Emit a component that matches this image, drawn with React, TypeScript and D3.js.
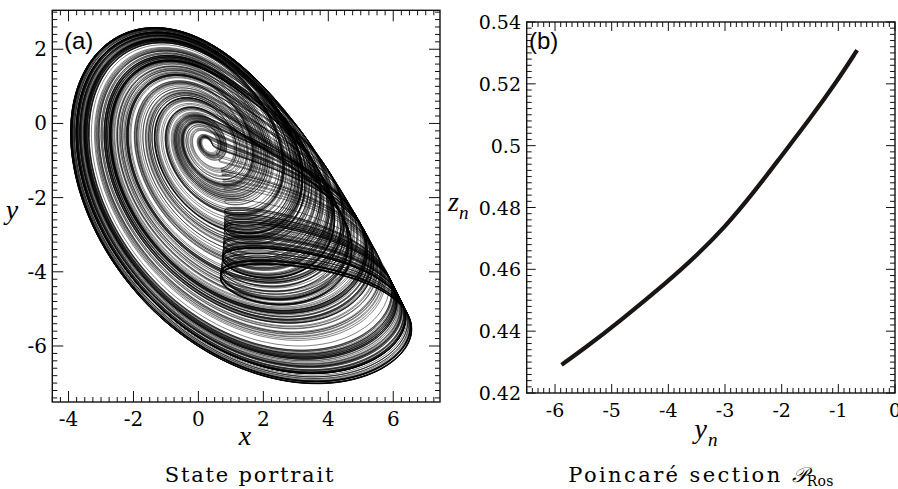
import { useMemo } from "react";
import * as d3 from "d3";

// Rössler system x' = -y - z, y' = x + a y, z' = b + z (x - c)
const rosslerParams = [0.52, 2, 4]; // a, b, c
const initialState = [-1, 0, 0.2];
const timeStep = 0.01;
const transientSteps = 20000;
const plotSteps = 200000;
const sampleEvery = 3;

// panel (a) axes
const xTicksA = [-4, -2, 0, 2, 4, 6];
const yTicksA = [-6, -4, -2, 0, 2];

// panel (b) Poincaré section
const ynValues = [-5.885, -5.44, -4.9, -4, -3.5, -3, -2.5, -2, -1.5, -1, -0.668];
const znValues = [0.4291, 0.435, 0.4426, 0.4562, 0.4645, 0.4737, 0.4847, 0.4968, 0.5087, 0.5215, 0.5309];
const xTicksB = [-6, -5, -4, -3, -2, -1, 0];
const yTicksB = [0.42, 0.44, 0.46, 0.48, 0.5, 0.52, 0.54];

const SERIF = "DejaVu Serif";
const SERIF_IT = "Liberation Serif";
const SANS = "Liberation Sans";

// RK4 on the Rössler flow, returns (x, y) samples after the transient
function integrate() {
  const [a, b, c] = rosslerParams;
  let [x, y, z] = initialState;
  const h = timeStep;
  const pts: [number, number][] = [];
  const total = transientSteps + plotSteps;
  for (let i = 0; i < total; i++) {
    const k1x = -y - z, k1y = x + a * y, k1z = b + z * (x - c);
    let x2 = x + 0.5 * h * k1x, y2 = y + 0.5 * h * k1y, z2 = z + 0.5 * h * k1z;
    const k2x = -y2 - z2, k2y = x2 + a * y2, k2z = b + z2 * (x2 - c);
    x2 = x + 0.5 * h * k2x; y2 = y + 0.5 * h * k2y; z2 = z + 0.5 * h * k2z;
    const k3x = -y2 - z2, k3y = x2 + a * y2, k3z = b + z2 * (x2 - c);
    x2 = x + h * k3x; y2 = y + h * k3y; z2 = z + h * k3z;
    const k4x = -y2 - z2, k4y = x2 + a * y2, k4z = b + z2 * (x2 - c);
    x += (h / 6) * (k1x + 2 * k2x + 2 * k3x + k4x);
    y += (h / 6) * (k1y + 2 * k2y + 2 * k3y + k4y);
    z += (h / 6) * (k1z + 2 * k2z + 2 * k3z + k4z);
    if (i >= transientSteps && i % sampleEvery === 0) pts.push([x, y]);
  }
  return pts;
}

function steps(min: number, max: number, step: number) {
  const out: number[] = [];
  const k0 = Math.ceil(min / step - 1e-9);
  const k1 = Math.floor(max / step + 1e-9);
  for (let k = k0; k <= k1; k++) out.push(+(k * step).toFixed(6));
  return out;
}

type FrameProps = {
  x: d3.ScaleLinear<number, number>;
  y: d3.ScaleLinear<number, number>;
  xMajor: number[];
  yMajor: number[];
  xMinor: number;
  yMinor: number;
  major: number;
  minor: number;
};

const Frame = ({ x, y, xMajor, yMajor, xMinor, yMinor, major, minor }: FrameProps) => {
  const [x0, x1] = x.range();
  const [y0, y1] = y.range(); // y0 bottom, y1 top
  const lines: any[] = [];
  const xd = x.domain();
  const yd = y.domain();
  steps(xd[0], xd[1], xMinor).forEach((v, i) => {
    const len = xMajor.some((m) => Math.abs(m - v) < 1e-6) ? major : minor;
    const px = x(v);
    lines.push(<line key={"xb" + i} x1={px} x2={px} y1={y0} y2={y0 - len} />);
    lines.push(<line key={"xt" + i} x1={px} x2={px} y1={y1} y2={y1 + len} />);
  });
  steps(yd[0], yd[1], yMinor).forEach((v, i) => {
    const len = yMajor.some((m) => Math.abs(m - v) < 1e-6) ? major : minor;
    const py = y(v);
    lines.push(<line key={"yl" + i} x1={x0} x2={x0 + len} y1={py} y2={py} />);
    lines.push(<line key={"yr" + i} x1={x1} x2={x1 - len} y1={py} y2={py} />);
  });
  return (
    <g stroke="#111" fill="none">
      <g strokeWidth={1}>{lines}</g>
      <rect x={x0} y={y1} width={x1 - x0} height={y0 - y1} strokeWidth={1.4} />
    </g>
  );
};

export default function App() {
  const traj = useMemo(integrate, []);

  // panel (a)
  const xA = d3.scaleLinear().domain([-4.5, 7.44]).range([52.3, 440]);
  const yA = d3.scaleLinear().domain([-7.51, 3.05]).range([402, 10.3]);
  const lineA = d3
    .line<[number, number]>()
    .x((d) => xA(d[0]))
    .y((d) => yA(d[1]));
  const pathA = useMemo(() => lineA.digits(1)(traj) ?? "", [traj]);

  // panel (b)
  const xB = d3.scaleLinear().domain([-6.5, 0]).range([526.7, 895]);
  const yB = d3.scaleLinear().domain([0.42, 0.54]).range([393, 22]);
  const lineB = d3
    .line<number>()
    .x((_, i) => xB(ynValues[i]))
    .y((d) => yB(d))
    .curve(d3.curveBasis);

  return (
    <svg width={898} height={489} style={{ position: "absolute", left: 0, top: 0, background: "#fff" }}>
      <defs>
        <clipPath id="clipA">
          <rect x={52.3} y={10.3} width={440 - 52.3} height={402 - 10.3} />
        </clipPath>
      </defs>

      {/* panel (a) */}
      <path d={pathA} fill="none" stroke="#000" strokeWidth={0.55} strokeOpacity={0.9} clipPath="url(#clipA)" />
      <Frame x={xA} y={yA} xMajor={xTicksA} yMajor={yTicksA} xMinor={0.25} yMinor={0.2} major={11} minor={5} />
      {xTicksA.map((t) => (
        <text key={"xa" + t} x={xA(t)} y={426} fontFamily={SERIF} fontSize={20} textAnchor="middle">
          {String(t)}
        </text>
      ))}
      {yTicksA.map((t) => (
        <text key={"ya" + t} x={47} y={yA(t) + 7} fontFamily={SERIF} fontSize={20} textAnchor="end">
          {String(t)}
        </text>
      ))}
      <text x={245} y={445} fontFamily={SERIF_IT} fontStyle="italic" fontSize={28} textAnchor="middle">
        x
      </text>
      <text x={12} y={219} fontFamily={SERIF_IT} fontStyle="italic" fontSize={28} textAnchor="middle">
        y
      </text>
      <text x={64} y={49} fontFamily={SANS} fontSize={24}>
        (a)
      </text>
      <text x={250} y={482} fontFamily={SERIF} fontSize={21} letterSpacing={1.8} textAnchor="middle">
        State portrait
      </text>

      {/* panel (b) */}
      <path d={lineB(znValues) ?? ""} fill="none" stroke="#1a1414" strokeWidth={4.2} />
      <Frame x={xB} y={yB} xMajor={xTicksB} yMajor={yTicksB} xMinor={0.1} yMinor={0.002} major={9} minor={5} />
      {xTicksB.map((t) => (
        <text key={"xb" + t} x={xB(t)} y={417} fontFamily={SERIF} fontSize={19} textAnchor="middle">
          {String(t)}
        </text>
      ))}
      {yTicksB.map((t) => (
        <text key={"yb" + t} x={521} y={yB(t) + 7} fontFamily={SERIF} fontSize={19} textAnchor="end">
          {String(t)}
        </text>
      ))}
      <text x={706} y={438} fontFamily={SERIF_IT} fontStyle="italic" fontSize={28} textAnchor="middle">
        y
        <tspan fontSize={19} dx={1} dy={8}>
          n
        </tspan>
      </text>
      <text x={448} y={211} fontFamily={SERIF_IT} fontStyle="italic" fontSize={28}>
        z
        <tspan fontSize={19} dx={0} dy={8}>
          n
        </tspan>
      </text>
      <text x={529} y={49} fontFamily={SANS} fontSize={24}>
        (b)
      </text>
      <text x={701} y={482} fontFamily={SERIF} fontSize={21} letterSpacing={2.4} textAnchor="middle">
        Poincaré section{" "}
        <tspan fontStyle="italic" letterSpacing={0}>
          𝒫
        </tspan>
        <tspan fontSize={14} dy={4} letterSpacing={0.3}>
          Ros
        </tspan>
      </text>
    </svg>
  );
}
